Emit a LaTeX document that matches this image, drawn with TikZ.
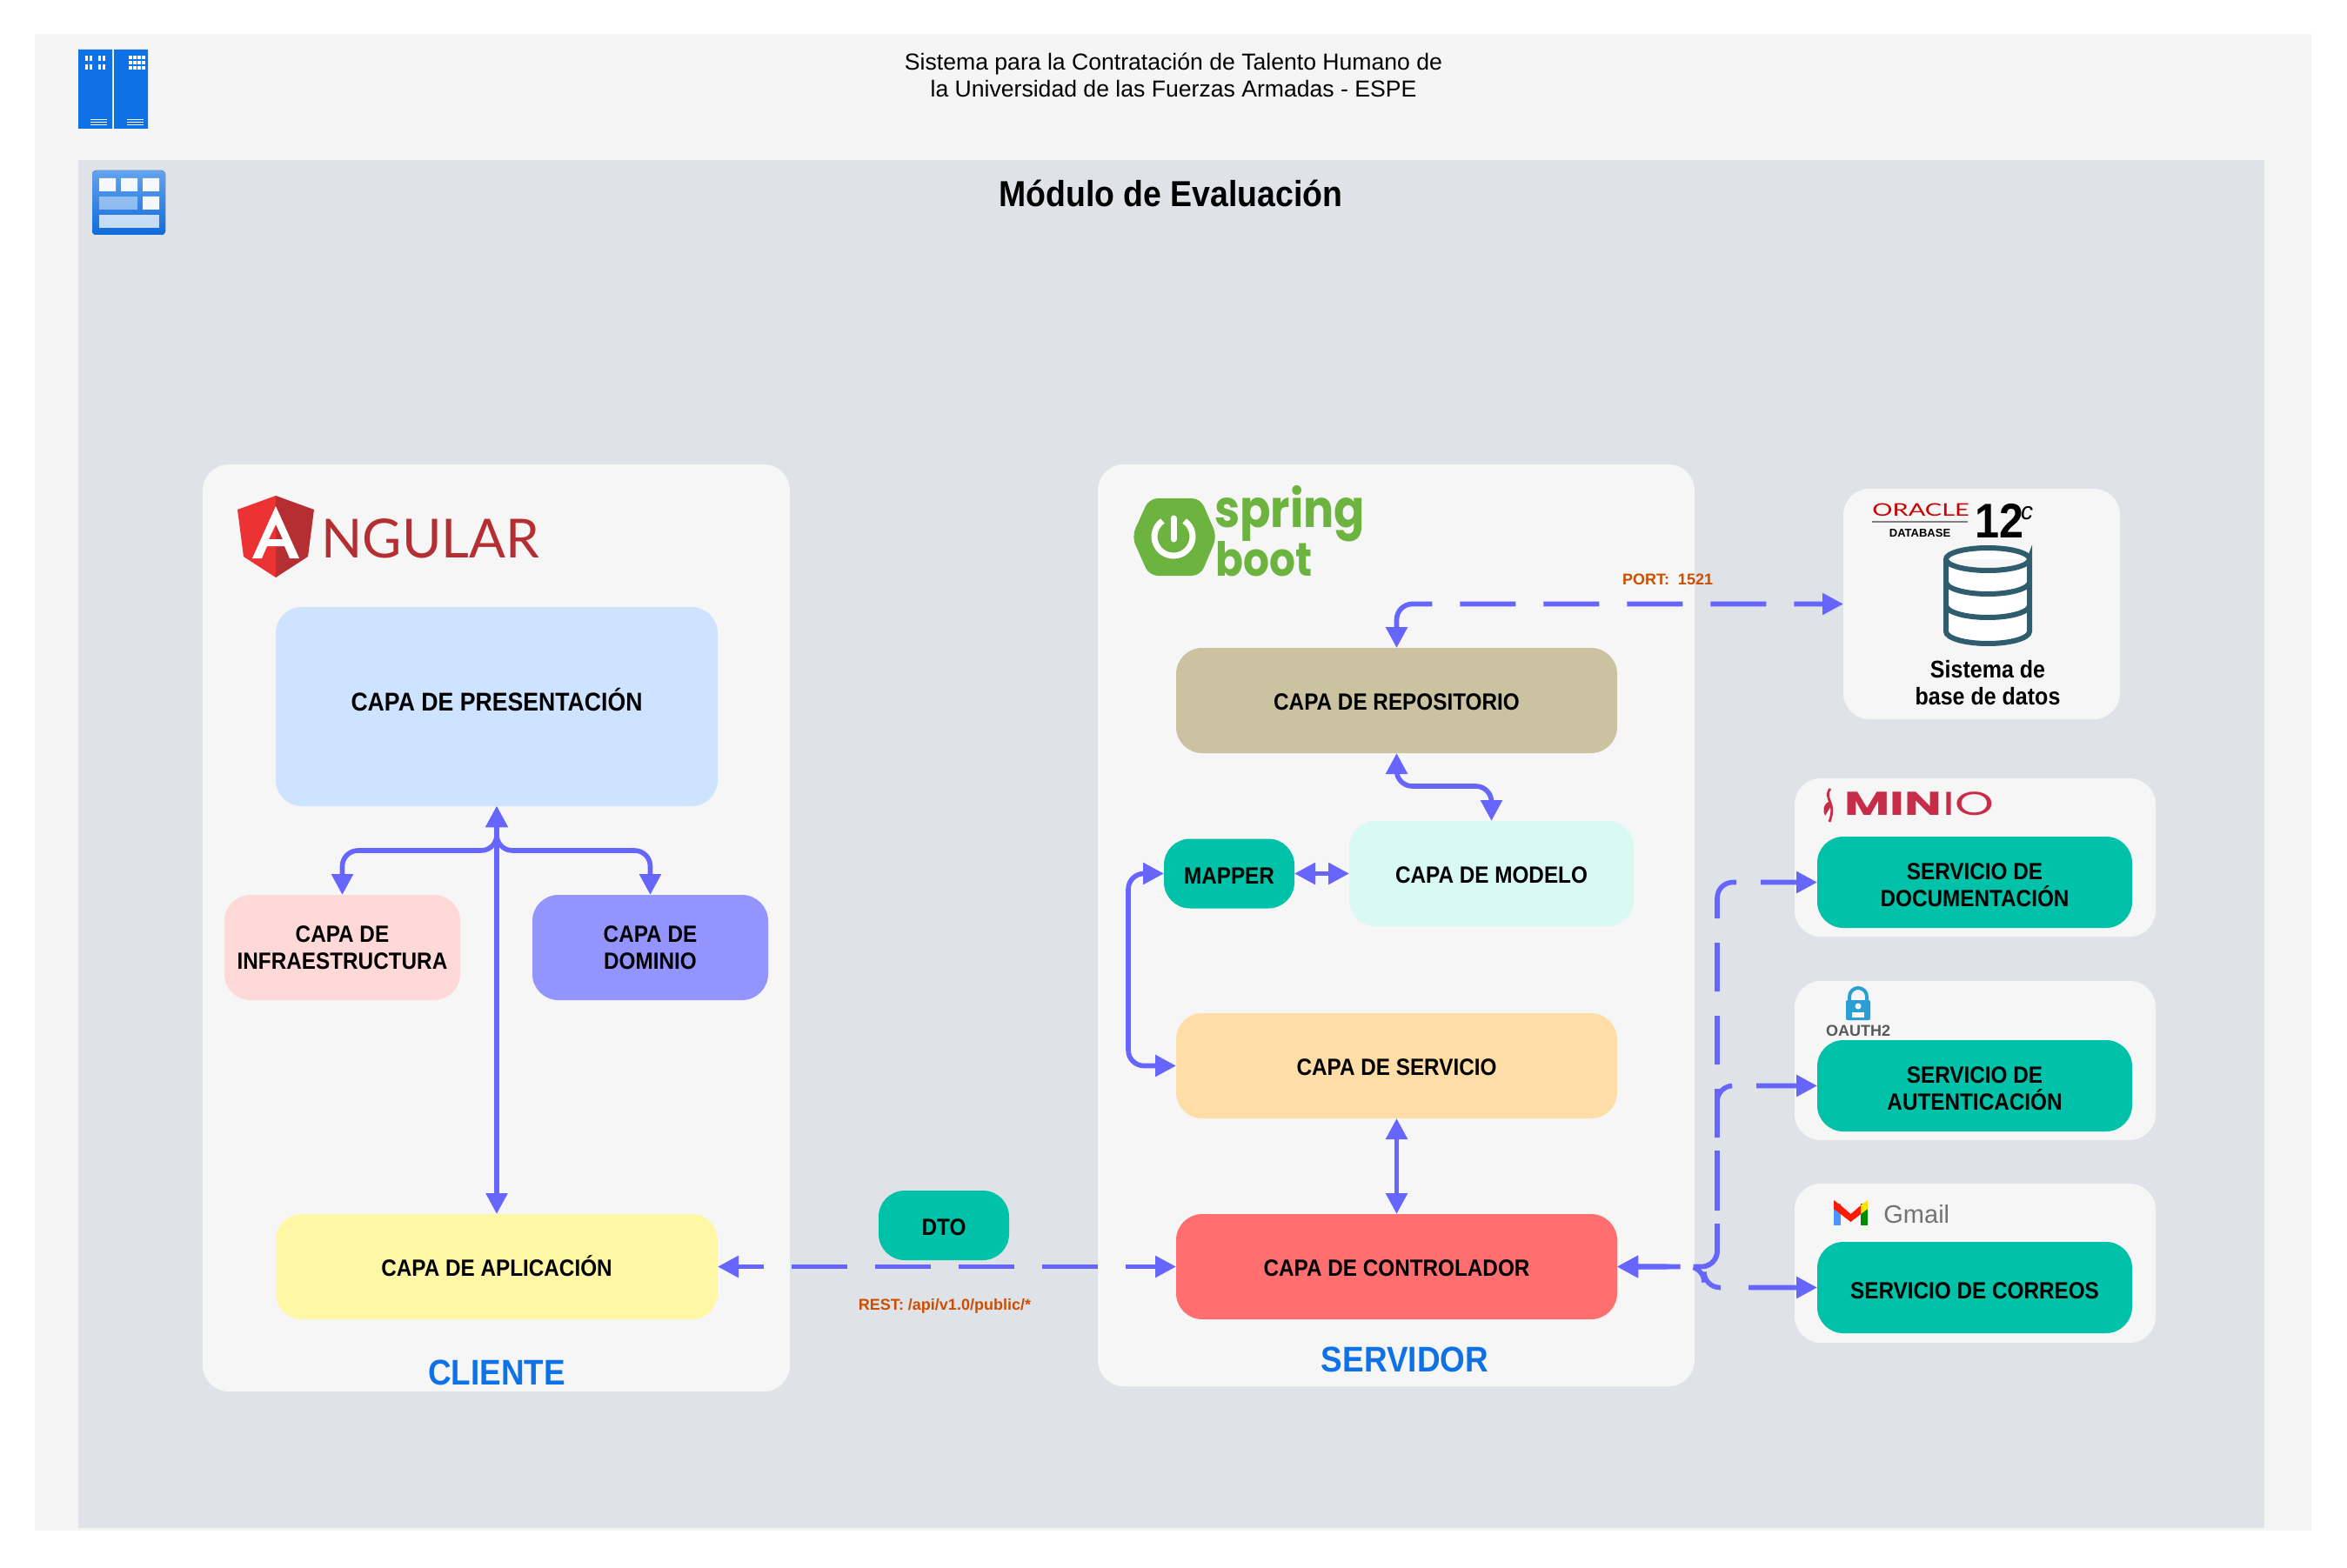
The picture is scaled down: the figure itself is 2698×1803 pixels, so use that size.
\documentclass[tikz,border=0pt]{standalone}
\usepackage{fontspec}
\setmainfont{Liberation Sans}
\newfontfamily\rotulofont{Liberation Sans}[FakeStretch=0.9]
\newfontfamily\logofont{Lato}
\newfontfamily\oraclefont{Lato}[FakeStretch=1.45]
\newfontfamily\springfont{Poppins}[FakeStretch=0.87]
\newfontfamily\miniofont{Poppins}[FakeStretch=1.5]
\usetikzlibrary{positioning,arrows.meta}
\definecolor{cMarco}{HTML}{F5F5F5}
\definecolor{cFondo}{HTML}{DFE2E7}
\definecolor{cPanel}{HTML}{F6F6F6}
\definecolor{cPres}{HTML}{CEE3FF}
\definecolor{cInfra}{HTML}{FFD8D8}
\definecolor{cDominio}{HTML}{9494FF}
\definecolor{cAplic}{HTML}{FFF6A6}
\definecolor{cRepo}{HTML}{CBC2A2}
\definecolor{cModelo}{HTML}{D8FAF3}
\definecolor{cTurquesa}{HTML}{00C2A8}
\definecolor{cServicio}{HTML}{FFDDA6}
\definecolor{cControl}{HTML}{FF6F6F}
\definecolor{cFlecha}{HTML}{6666FF}
\definecolor{cNaranja}{HTML}{CC4E00}
\definecolor{cAzul}{HTML}{0F71E6}
\definecolor{cAngular}{HTML}{B52E31}
\definecolor{cSpring}{HTML}{6DB33F}
\definecolor{cMinio}{HTML}{C72C48}
\definecolor{cBase}{HTML}{2F5D6E}
\definecolor{cCandado}{HTML}{2A9FD6}
\tikzset{
  capa/.style={rounded corners=15pt,inner sep=0pt,outer sep=0pt,align=center,minimum height=60.5pt,font=\rotulofont\bfseries\fontsize{13.5}{15.5}\selectfont},
  capaU/.style={capa,text height=11.5pt},
  capaS/.style={capa,fill=cTurquesa,minimum width=181pt,minimum height=52.5pt},
  panel/.style={rounded corners=15pt,inner sep=0pt,outer sep=0pt,fill=cPanel},
  titulo/.style={inner sep=0pt,text=cAzul,font=\rotulofont\bfseries\fontsize{20.5}{24}\selectfont},
  nota/.style={inner sep=0pt,text=cNaranja,font=\bfseries\fontsize{9}{11}\selectfont},
  texto/.style={inner sep=0pt,align=center},
  flecha/.style={{Triangle[length=12pt,width=12pt]}-{Triangle[length=12pt,width=12pt]},line width=2.8pt,draw=cFlecha,rounded corners=9pt},
  rayas/.style={flecha,dash pattern=on 32pt off 16pt},
  rayasV/.style={flecha,dash pattern=on 28pt off 14pt},
}
\begin{document}
\begin{tikzpicture}[x=0.5pt,y=-0.5pt]
  \useasboundingbox (0,0) rectangle (2698,1803);
  \fill[cMarco] (40,39) rectangle (2657,1760);
  \fill[cFondo] (90,184) rectangle (2603,1757);

  \node[texto,font=\fontsize{13.3}{15.5}\selectfont] (cabecera) at (1349,86) {Sistema para la Contratación de Talento Humano de\\la Universidad de las Fuerzas Armadas - ESPE};
  \node[texto,font=\rotulofont\bfseries\fontsize{20.8}{24}\selectfont] (modulo) at (1346,222) {Módulo de Evaluación};

  \fill[cAzul] (90,57) rectangle (129,148) (131,57) rectangle (170,148);
  \foreach \px in {98,103,113,118} \foreach \py in {64,74} \fill[white] (\px,\py) rectangle ++(2.5,6);
  \foreach \px in {148,153,158,163} \foreach \py in {64,70,76} \fill[white] (\px,\py) rectangle ++(3.5,4);
  \foreach \px in {104,146} \foreach \py in {137,140,143} \fill[white] (\px,\py) rectangle ++(19,1.3);

  \fill[rounded corners=2pt,top color=cAzul!65,bottom color=cAzul!95!black] (106,196) rectangle (190,270);
  \fill[white,opacity=.95] (114,205) rectangle (133,220) (139,205) rectangle (158,220) (164,205) rectangle (183,220) (164,226) rectangle (183,241);
  \fill[white,opacity=.45] (114,226) rectangle (158,241);
  \fill[white,opacity=.75] (114,247) rectangle (183,262);

  \node[panel,minimum width=337.5pt,minimum height=533pt] (cliente) at (570.5,1067) {};
  \node[panel,minimum width=343pt,minimum height=530pt] (servidor) at (1605,1064) {};
  \node[panel,minimum width=159pt,minimum height=132.5pt] (oracle) at (2278,694.5) {};
  \node[panel,minimum width=207.5pt,minimum height=91pt] (minio) at (2270.5,986) {};
  \node[panel,minimum width=207.5pt,minimum height=91.5pt] (oauth) at (2270.5,1219.5) {};
  \node[panel,minimum width=207.5pt,minimum height=91.5pt] (gmail) at (2270.5,1452.5) {};

  \fill[cAngular!30!red!85!white] (317,570) -- (273,586) -- (280,640) -- (317,664) -- cycle;
  \fill[cAngular] (317,570) -- (361,586) -- (354,640) -- (317,664) -- cycle;
  \fill[white,even odd rule] (317,582) -- (344,642) -- (333,642) -- (327,628) -- (307,628) -- (301,642) -- (290,642) -- cycle (317,603) -- (325,620) -- (309,620) -- cycle;
  \node[inner sep=0pt,anchor=base west,text=cAngular,font=\logofont\fontsize{31}{31}\selectfont] (angular) at (369,641) {NGULAR};

  \fill[cSpring,rounded corners=5pt] (1301,617) -- (1321,573) -- (1380,573) -- (1399,617) -- (1380,662) -- (1321,662) -- cycle;
  \draw[white,line width=3.5pt] (1361.6,599) arc[start angle=-55,end angle=235,radius=22];
  \draw[white,line width=3.5pt,line cap=round] (1349,596) -- (1349,620);
  \node[inner sep=0pt,anchor=base west,text=cSpring,font=\springfont\bfseries\fontsize{30}{30}\selectfont] (spring) at (1396,606) {spring};
  \node[inner sep=0pt,anchor=base west,text=cSpring,font=\springfont\bfseries\fontsize{27}{27}\selectfont] (boot) at (1397,662) {boot};

  \node[capa,fill=cPres,minimum width=254pt,minimum height=114.5pt,text depth=8.5pt,font=\rotulofont\bfseries\fontsize{14.8}{16}\selectfont] (pres) at (571,812.5) {CAPA DE PRESENTACIÓN};
  \node[capa,fill=cInfra,minimum width=135.5pt] (infra) at (393.5,1089.5) {CAPA DE\\INFRAESTRUCTURA};
  \node[capa,fill=cDominio,minimum width=135.5pt,right=41.5pt of infra] (dominio) {CAPA DE\\DOMINIO};
  \node[capaU,fill=cAplic,minimum width=254pt,below=234.5pt of pres] (aplic) {CAPA DE APLICACIÓN};
  \node[capaU,fill=cTurquesa,minimum width=75pt,minimum height=40pt] (dto) at (1085,1409) {DTO};
  \node[nota] (rest) at (1086,1502) {REST: /api/v1.0/public/*};
  \node[titulo] (lbCliente) at (571,1578) {CLIENTE};

  \node[capaU,fill=cRepo,minimum width=253.5pt] (repo) at (1605.5,805.5) {CAPA DE REPOSITORIO};
  \node[capaU,fill=cModelo,minimum width=163.5pt] (modelo) at (1714.5,1004.5) {CAPA DE MODELO};
  \node[capaU,fill=cTurquesa,minimum width=75pt,minimum height=40pt,left=31.5pt of modelo] (mapper) {MAPPER};
  \node[capaU,fill=cServicio,minimum width=253.5pt,below=149.5pt of repo] (servicio) {CAPA DE SERVICIO};
  \node[capaU,fill=cControl,minimum width=253.5pt,below=55pt of servicio] (control) {CAPA DE CONTROLADOR};
  \node[titulo] (lbServidor) at (1615,1563) {SERVIDOR};

  \node[capaS,text height=28.5pt] (doc) at (2270,1014.5) {SERVICIO DE\\DOCUMENTACIÓN};
  \node[capaS,text height=28.5pt,below=64.5pt of doc] (auten) {SERVICIO DE\\AUTENTICACIÓN};
  \node[capaS,text height=13.5pt,below=63.5pt of auten] (correos) {SERVICIO DE CORREOS};
  \node[nota] (puerto) at (1917,666) {PORT:\ \ 1521};

  \node[inner sep=0pt,anchor=base west,text=red!80!black,font=\oraclefont\fontsize{10}{11}\selectfont] (lbOracle) at (2152,593) {ORACLE};
  \draw[gray,line width=.6pt] (2152,600) -- (2262,600);
  \node[inner sep=0pt,text=black,font=\bfseries\fontsize{6.5}{8}\selectfont] (lbDatabase) at (2207,613) {DATABASE};
  \node[inner sep=0pt,anchor=base west,font=\rotulofont\bfseries\fontsize{28}{28}\selectfont] (lbDoce) at (2270,618) {12};
  \node[inner sep=0pt,font=\itshape\fontsize{14}{14}\selectfont] (lbC) at (2330,590) {c};
  \filldraw[fill=white,draw=cBase,line width=3pt] (2237,643) -- (2237,726) arc[start angle=180,end angle=0,x radius=48,y radius=14] -- (2333,643) arc[start angle=0,end angle=360,x radius=48,y radius=13];
  \draw[cBase,line width=3pt] (2237,669) arc[start angle=180,end angle=0,x radius=48,y radius=14] (2237,696) arc[start angle=180,end angle=0,x radius=48,y radius=14];
  \node[texto,font=\rotulofont\bfseries\fontsize{13.9}{15.5}\selectfont] (lbBase) at (2285,785) {Sistema de\\base de datos};

  \draw[cMinio,line width=1.4pt] (2104,907) .. controls (2095,918) and (2112,922) .. (2103,945);
  \fill[cMinio] (2104,921) .. controls (2094,925) and (2096,934) .. (2098,938) -- (2106,925) -- cycle;
  \node[inner sep=0pt,anchor=base west,text=cMinio,font=\miniofont\bfseries\fontsize{19}{19}\selectfont] (lbMinio) at (2120,937.5) {MIN};
  \node[inner sep=0pt,anchor=base west,text=cMinio,font=\miniofont\fontsize{19}{19}\selectfont] (lbMinioB) at (lbMinio.base east) {IO};

  \draw[cCandado,line width=2pt] (2126,1152) -- (2126,1146) arc[start angle=180,end angle=360,radius=10] -- (2146,1152);
  \fill[cCandado,rounded corners=1pt] (2122,1150) rectangle (2150,1173);
  \fill[white] (2136,1157) circle[radius=3.5];
  \fill[white] (2129,1170) rectangle (2143,1164);
  \node[inner sep=0pt,text=black!65,font=\bfseries\fontsize{9}{11}\selectfont] (lbOauth) at (2136,1185) {OAUTH2};

  \fill[blue!60!cyan!70!white] (2108,1384) rectangle (2116,1409);
  \fill[green!55!black] (2139,1384) rectangle (2147,1409);
  \fill[red!80!orange] (2108,1380) -- (2116,1386) -- (2127.5,1396) -- (2139,1386) -- (2139,1396) -- (2127.5,1405) -- (2108,1390) -- cycle;
  \fill[yellow!85!orange] (2139,1386) -- (2147,1380) -- (2147,1390) -- (2139,1396) -- cycle;
  \node[inner sep=0pt,anchor=west,text=black!55,font=\fontsize{14.5}{18}\selectfont] (lbGmail) at (2165,1396) {Gmail};

  \draw[flecha] (pres.south) -- (aplic.north);
  \draw[flecha] (pres.south) -- ++(0,51) -| (infra.north);
  \draw[flecha] (pres.south) -- ++(0,51) -| (dominio.north);
  \draw[rayas,dash phase=17pt] (aplic.east) -- (control.west);
  \draw[flecha] (repo.south) -- ++(0,38) -| (modelo.north);
  \draw[flecha] (mapper.east) -- (modelo.west);
  \draw[flecha] (mapper.west) -- ++(-41,0) |- (servicio.west);
  \draw[flecha] (servicio.south) -- (control.north);
  \draw[rayas,dash phase=15pt] (oracle.west) -| (repo.north);
  \draw[rayasV,dash phase=9.5pt] (control.east) -- ++(115,0) |- (doc.west);
  \draw[rayasV,dash phase=3pt] (control.east) -- ++(115,0) |- (auten.west);
  \draw[rayas,dash phase=15.5pt] (control.east) -- ++(100,0) |- (correos.west);
\end{tikzpicture}
\end{document}
